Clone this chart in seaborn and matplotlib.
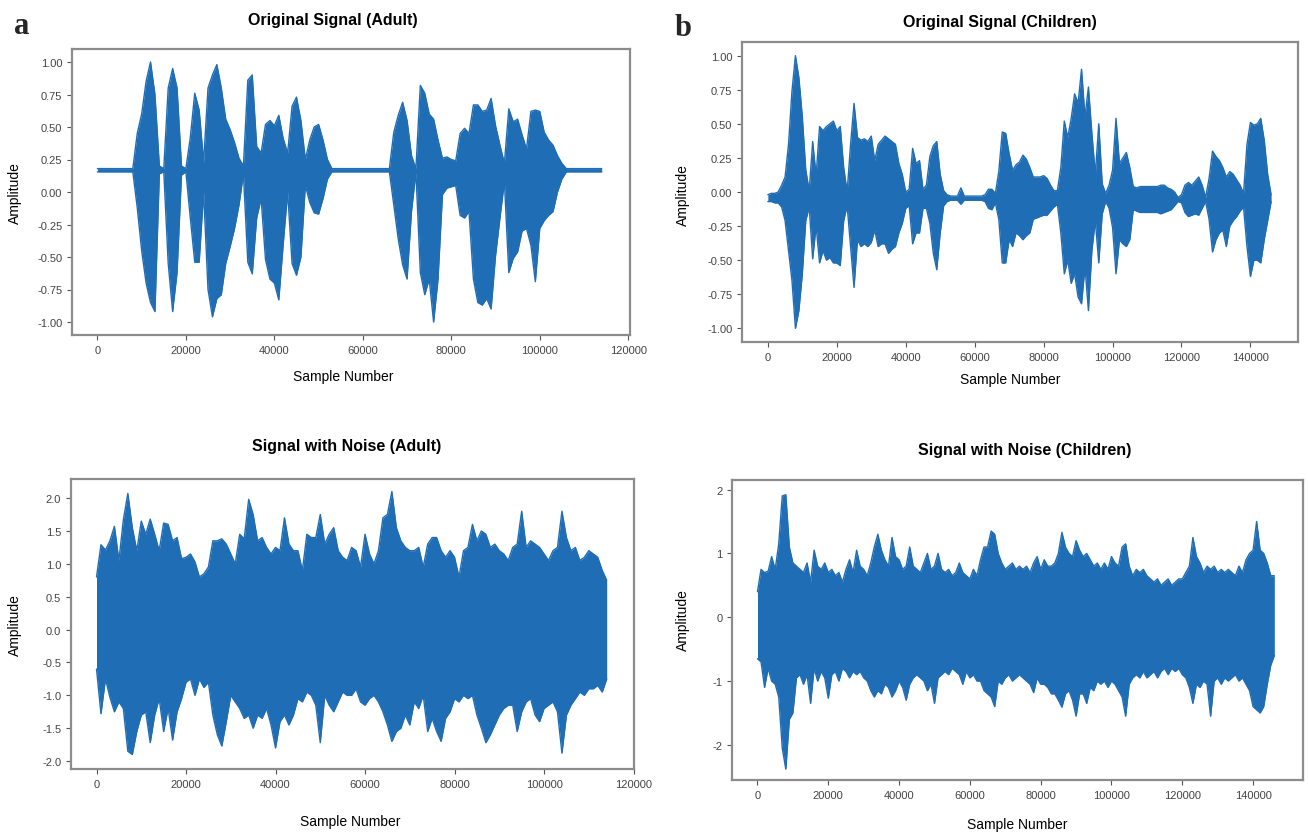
import numpy as np
import pandas as pd
import matplotlib
matplotlib.use("Agg")
import matplotlib.pyplot as plt
import seaborn as sns
from matplotlib.ticker import MultipleLocator, FormatStrFormatter

# --- style ---
sns.set_theme(style="ticks")
plt.rcParams['font.family'] = ['Liberation Sans', 'DejaVu Sans']

WAVE_COLOR = '#1f6db4'
STEP = 1000  # one envelope reading (max / min) every 1000 samples

# --- data: envelope of the waveforms ---
# Original Signal (Adult), samples 0..114000
adult_orig_hi = [
    0.18, 0.18, 0.18, 0.18, 0.18, 0.18, 0.18, 0.18, 0.18, 0.45,
    0.60, 0.85, 1.00, 0.75, 0.20, 0.18, 0.80, 0.95, 0.80, 0.20,
    0.18, 0.42, 0.76, 0.63, 0.23, 0.80, 0.90, 0.98, 0.80, 0.56,
    0.48, 0.38, 0.26, 0.20, 0.86, 0.90, 0.35, 0.30, 0.52, 0.55,
    0.51, 0.59, 0.41, 0.30, 0.66, 0.73, 0.55, 0.25, 0.40, 0.50,
    0.52, 0.40, 0.25, 0.18, 0.18, 0.18, 0.18, 0.18, 0.18, 0.18,
    0.18, 0.18, 0.18, 0.18, 0.18, 0.18, 0.18, 0.46, 0.59, 0.69,
    0.55, 0.28, 0.18, 0.82, 0.76, 0.60, 0.56, 0.40, 0.26, 0.27,
    0.25, 0.24, 0.45, 0.49, 0.45, 0.67, 0.67, 0.62, 0.63, 0.72,
    0.51, 0.36, 0.22, 0.64, 0.54, 0.56, 0.44, 0.33, 0.62, 0.63,
    0.62, 0.46, 0.40, 0.36, 0.28, 0.22, 0.18, 0.18, 0.18, 0.18,
    0.18, 0.18, 0.18, 0.18, 0.18,
]
adult_orig_lo = [
    0.155, 0.155, 0.155, 0.155, 0.155, 0.155, 0.155, 0.155, 0.155, -0.12,
    -0.45, -0.70, -0.85, -0.92, 0.14, 0.155, -0.55, -0.92, -0.62, 0.13,
    0.155, -0.20, -0.54, -0.54, 0.00, -0.75, -0.96, -0.82, -0.79, -0.55,
    -0.42, -0.28, -0.10, 0.14, -0.54, -0.63, -0.20, -0.05, -0.52, -0.67,
    -0.70, -0.83, -0.40, 0.00, -0.55, -0.64, -0.50, 0.05, -0.08, -0.16,
    -0.17, -0.05, 0.10, 0.155, 0.155, 0.155, 0.155, 0.155, 0.155, 0.155,
    0.155, 0.155, 0.155, 0.155, 0.155, 0.155, 0.155, -0.10, -0.36, -0.56,
    -0.67, -0.15, 0.155, -0.62, -0.79, -0.67, -1.00, -0.67, -0.02, 0.03,
    0.04, 0.05, -0.18, -0.20, -0.15, -0.67, -0.85, -0.87, -0.82, -0.90,
    -0.49, -0.20, 0.08, -0.62, -0.51, -0.46, -0.30, -0.28, -0.41, -0.69,
    -0.28, -0.22, -0.18, -0.15, 0.00, 0.10, 0.155, 0.155, 0.155, 0.155,
    0.155, 0.155, 0.155, 0.155, 0.155,
]

# Original Signal (Children), samples 0..146000
child_orig_hi = [
    -0.02, -0.01, -0.01, 0.00, 0.05, 0.11, 0.35, 0.74, 1.00, 0.84,
    0.55, 0.16, 0.01, 0.37, 0.12, 0.48, 0.45, 0.48, 0.50, 0.52,
    0.45, 0.48, 0.18, 0.00, 0.35, 0.65, 0.40, 0.38, 0.39, 0.37,
    0.41, 0.23, 0.35, 0.38, 0.41, 0.39, 0.37, 0.35, 0.21, 0.13,
    0.00, 0.02, 0.32, 0.21, 0.23, 0.02, 0.05, 0.26, 0.34, 0.37,
    0.13, 0.01, -0.02, -0.03, -0.03, -0.03, 0.03, -0.03, -0.03, -0.03,
    -0.03, -0.03, -0.03, -0.02, 0.02, 0.02, -0.01, 0.15, 0.44, 0.43,
    0.28, 0.16, 0.20, 0.22, 0.27, 0.24, 0.18, 0.11, 0.11, 0.11,
    0.12, 0.10, 0.05, 0.01, 0.01, 0.18, 0.52, 0.40, 0.54, 0.72,
    0.65, 0.90, 0.55, 0.77, 0.43, 0.13, 0.50, 0.06, -0.01, 0.05,
    0.16, 0.54, 0.21, 0.25, 0.29, 0.18, 0.04, 0.03, 0.04, 0.04,
    0.04, 0.04, 0.04, 0.04, 0.05, 0.05, 0.03, 0.02, 0.00, -0.04,
    -0.02, 0.05, 0.07, 0.05, 0.08, 0.11, 0.05, -0.04, 0.10, 0.30,
    0.26, 0.23, 0.18, 0.11, 0.15, 0.13, 0.09, 0.05, -0.01, 0.35,
    0.51, 0.49, 0.50, 0.54, 0.38, 0.13, -0.02,
]
child_orig_lo = [
    -0.07, -0.07, -0.08, -0.08, -0.11, -0.21, -0.43, -0.65, -1.00, -0.87,
    -0.60, -0.21, -0.11, -0.49, -0.25, -0.52, -0.43, -0.50, -0.48, -0.52,
    -0.52, -0.54, -0.21, -0.10, -0.40, -0.70, -0.35, -0.40, -0.38, -0.40,
    -0.37, -0.28, -0.40, -0.38, -0.38, -0.45, -0.42, -0.40, -0.30, -0.23,
    -0.12, -0.10, -0.38, -0.30, -0.30, -0.12, -0.12, -0.23, -0.45, -0.57,
    -0.30, -0.10, -0.07, -0.06, -0.06, -0.06, -0.09, -0.06, -0.06, -0.06,
    -0.06, -0.06, -0.06, -0.07, -0.12, -0.13, -0.08, -0.20, -0.52, -0.52,
    -0.35, -0.40, -0.30, -0.32, -0.35, -0.32, -0.30, -0.20, -0.19, -0.18,
    -0.17, -0.17, -0.14, -0.11, -0.09, -0.30, -0.60, -0.50, -0.67, -0.60,
    -0.77, -0.82, -0.55, -0.87, -0.43, -0.21, -0.52, -0.16, -0.07, -0.12,
    -0.26, -0.60, -0.35, -0.38, -0.40, -0.35, -0.13, -0.14, -0.15, -0.15,
    -0.15, -0.15, -0.15, -0.15, -0.16, -0.15, -0.14, -0.13, -0.10, -0.07,
    -0.08, -0.15, -0.18, -0.17, -0.16, -0.17, -0.12, -0.07, -0.20, -0.44,
    -0.35, -0.30, -0.28, -0.40, -0.25, -0.21, -0.18, -0.14, -0.11, -0.40,
    -0.62, -0.50, -0.50, -0.52, -0.35, -0.21, -0.07,
]

# Signal with Noise (Adult), samples 0..114000
adult_noise_hi = [
    0.80, 1.29, 1.21, 1.35, 1.57, 1.05, 1.67, 2.07, 1.55, 1.20,
    1.65, 1.45, 1.68, 1.45, 1.20, 1.62, 1.60, 1.35, 1.40, 1.08,
    1.10, 1.15, 1.03, 0.80, 0.85, 0.95, 1.35, 1.35, 1.38, 1.30,
    1.15, 1.00, 1.45, 1.38, 1.98, 1.75, 1.35, 1.40, 1.25, 1.15,
    1.25, 1.20, 1.70, 1.30, 1.20, 1.20, 0.90, 1.45, 1.40, 1.40,
    1.75, 1.30, 1.45, 1.55, 1.20, 1.10, 1.05, 1.25, 1.20, 0.95,
    1.45, 1.15, 1.00, 1.20, 1.70, 1.75, 2.10, 1.55, 1.35, 1.25,
    1.20, 1.20, 1.25, 0.95, 1.30, 1.40, 1.40, 1.20, 1.10, 1.20,
    1.10, 0.80, 1.20, 1.25, 1.60, 1.35, 1.50, 1.45, 1.25, 1.30,
    1.20, 1.15, 1.05, 1.25, 1.30, 1.80, 1.25, 1.35, 1.30, 1.25,
    1.15, 1.05, 1.20, 1.25, 1.80, 1.40, 1.20, 1.25, 1.05, 1.10,
    1.20, 1.15, 1.10, 0.90, 0.75,
]
adult_noise_lo = [
    -0.60, -1.28, -0.75, -1.03, -1.25, -1.10, -1.20, -1.85, -1.90, -1.55,
    -1.30, -1.25, -1.72, -1.30, -1.05, -1.55, -1.20, -1.68, -1.25, -1.05,
    -0.80, -0.75, -1.00, -0.75, -0.88, -0.80, -1.30, -1.60, -1.77, -1.40,
    -1.00, -1.10, -1.20, -1.35, -1.30, -1.50, -1.30, -1.35, -1.20, -1.45,
    -1.80, -1.40, -1.30, -1.45, -1.30, -1.05, -1.10, -0.95, -1.00, -1.15,
    -1.72, -1.00, -1.15, -1.25, -1.10, -0.95, -1.00, -1.00, -0.90, -1.10,
    -1.15, -1.05, -1.00, -1.10, -1.25, -1.45, -1.70, -1.55, -1.50, -1.30,
    -1.45, -1.10, -1.20, -1.00, -1.55, -1.35, -1.55, -1.70, -1.35, -1.25,
    -1.05, -1.10, -1.00, -1.05, -1.00, -1.30, -1.50, -1.72, -1.60, -1.45,
    -1.30, -1.20, -1.15, -1.15, -1.55, -1.25, -1.10, -1.05, -1.30, -1.40,
    -1.20, -1.15, -1.10, -1.25, -1.88, -1.30, -1.15, -1.05, -0.95, -1.00,
    -0.90, -0.90, -0.85, -0.95, -0.75,
]

# Signal with Noise (Children), samples 0..146000
child_noise_hi = [
    0.40, 0.75, 0.70, 0.72, 0.95, 0.75, 1.15, 1.90, 1.92, 1.10,
    0.85, 0.80, 0.75, 0.70, 0.85, 0.55, 1.05, 0.80, 0.75, 0.85,
    0.70, 0.75, 0.65, 0.70, 0.55, 0.75, 0.90, 0.70, 1.05, 0.80,
    0.75, 0.65, 0.85, 1.10, 1.30, 1.05, 0.90, 0.80, 1.25, 0.95,
    0.90, 0.75, 0.80, 1.10, 0.80, 0.75, 0.70, 0.85, 1.00, 0.75,
    0.80, 1.00, 0.75, 0.70, 0.75, 0.65, 0.70, 0.85, 0.70, 0.65,
    0.60, 0.75, 0.65, 0.90, 1.10, 1.10, 1.35, 1.30, 1.00, 0.85,
    0.75, 0.80, 0.85, 0.75, 0.80, 0.75, 0.80, 0.70, 0.85, 0.95,
    0.75, 0.90, 0.80, 0.80, 0.85, 1.00, 1.33, 1.10, 1.00, 0.95,
    1.20, 1.05, 0.95, 1.00, 0.90, 0.80, 0.85, 0.75, 0.85, 0.75,
    0.95, 0.85, 0.80, 1.10, 1.15, 0.80, 0.65, 0.75, 0.70, 0.75,
    0.65, 0.60, 0.55, 0.60, 0.50, 0.55, 0.60, 0.50, 0.55, 0.60,
    0.60, 0.70, 0.80, 1.25, 0.95, 0.85, 0.70, 0.80, 0.75, 0.80,
    0.70, 0.75, 0.70, 0.75, 0.70, 0.65, 0.80, 0.70, 0.90, 1.00,
    1.05, 1.50, 1.05, 1.00, 0.85, 0.65, 0.65,
]
child_noise_lo = [
    -0.65, -0.70, -1.10, -0.80, -1.00, -1.05, -1.25, -2.05, -2.38, -1.60,
    -1.50, -0.95, -0.90, -1.05, -0.90, -1.35, -0.80, -1.00, -0.85, -0.95,
    -1.27, -0.90, -0.85, -1.00, -0.80, -0.85, -0.95, -0.85, -0.90, -0.85,
    -0.95, -1.00, -1.15, -1.25, -1.15, -1.20, -1.05, -1.10, -1.25, -1.15,
    -1.00, -1.10, -1.30, -1.05, -0.95, -0.90, -0.95, -1.00, -1.15, -1.05,
    -1.35, -0.95, -0.90, -0.85, -0.90, -0.80, -0.85, -0.90, -1.05, -0.85,
    -0.95, -0.90, -1.00, -1.00, -1.15, -1.20, -1.25, -1.40, -1.00, -1.05,
    -0.95, -0.90, -1.00, -0.95, -0.90, -0.95, -1.00, -1.05, -1.18, -0.95,
    -1.05, -1.05, -1.10, -1.20, -1.20, -1.30, -1.41, -1.20, -1.15, -1.30,
    -1.55, -1.20, -1.20, -1.35, -1.10, -1.15, -1.00, -1.05, -1.00, -1.10,
    -1.00, -1.05, -1.15, -1.25, -1.55, -1.05, -0.95, -0.90, -0.95, -0.85,
    -0.95, -0.90, -0.85, -0.95, -0.85, -0.80, -0.90, -0.80, -0.85, -0.80,
    -0.90, -0.95, -1.10, -1.35, -1.05, -1.10, -1.00, -1.05, -1.55, -1.00,
    -0.95, -1.05, -0.95, -1.00, -0.95, -0.90, -1.00, -0.95, -1.05, -1.15,
    -1.40, -1.45, -1.50, -1.40, -1.05, -0.75, -0.60,
]

# --- figure ---
W, H = 1308, 837
fig = plt.figure(figsize=(W / 100, H / 100), dpi=100)


def px_axes(left, top, right, bottom):
    # axes placed by pixel box of the reference
    return fig.add_axes([left / W, 1 - bottom / H, (right - left) / W, (bottom - top) / H])


def px_text(x, y, s, **kw):
    fig.text(x / W, 1 - y / H, s, ha='center', va='center', **kw)


def draw_wave(ax, hi, lo, xlim, ylim, xstep, ystep, yfmt):
    df = pd.DataFrame({'sample': np.arange(len(hi)) * STEP, 'hi': hi, 'lo': lo})
    ax.fill_between(df['sample'], df['lo'], df['hi'], color=WAVE_COLOR, lw=0)
    sns.lineplot(data=df, x='sample', y='hi', ax=ax, color=WAVE_COLOR, lw=1.0)
    sns.lineplot(data=df, x='sample', y='lo', ax=ax, color=WAVE_COLOR, lw=1.0)
    ax.set_xlim(*xlim)
    ax.set_ylim(*ylim)
    ax.xaxis.set_major_locator(MultipleLocator(xstep))
    ax.yaxis.set_major_locator(MultipleLocator(ystep))
    ax.yaxis.set_major_formatter(FormatStrFormatter(yfmt))
    ax.set_xlabel('')
    ax.set_ylabel('')
    for sp in ax.spines.values():
        sp.set_visible(True)
        sp.set_color('#8c8c8c')
        sp.set_linewidth(1.6)
    ax.tick_params(labelsize=8, labelcolor='#444444', color='#555555', length=3.5, width=0.8)


ax1 = px_axes(72, 50, 630, 336)
draw_wave(ax1, adult_orig_hi, adult_orig_lo, (-5750, 120400), (-1.1, 1.1), 20000, 0.25, '%.2f')
ax2 = px_axes(742, 43, 1298, 343)
draw_wave(ax2, child_orig_hi, child_orig_lo, (-7500, 153800), (-1.1, 1.1), 20000, 0.25, '%.2f')
ax3 = px_axes(71, 480, 634, 770)
draw_wave(ax3, adult_noise_hi, adult_noise_lo, (-5700, 120100), (-2.12, 2.29), 20000, 0.5, '%.1f')
ax4 = px_axes(732, 481, 1303, 781)
draw_wave(ax4, child_noise_hi, child_noise_lo, (-7200, 154100), (-2.55, 2.15), 20000, 1, '%d')

# titles and axis labels
title_kw = dict(fontsize=11.5, fontweight='bold', color='black')
label_kw = dict(fontsize=10, color='black')
px_text(333, 20, 'Original Signal (Adult)', **title_kw)
px_text(1000, 23, 'Original Signal (Children)', **title_kw)
px_text(347, 447, 'Signal with Noise (Adult)', **title_kw)
px_text(1025, 451, 'Signal with Noise (Children)', **title_kw)

px_text(343, 377, 'Sample Number', **label_kw)
px_text(1010, 380, 'Sample Number', **label_kw)
px_text(350, 822, 'Sample Number', **label_kw)
px_text(1017, 825, 'Sample Number', **label_kw)

px_text(15, 193, 'Amplitude', rotation=90, **label_kw)
px_text(683, 195, 'Amplitude', rotation=90, **label_kw)
px_text(15, 625, 'Amplitude', rotation=90, **label_kw)
px_text(683, 620, 'Amplitude', rotation=90, **label_kw)

# panel letters
letter_kw = dict(fontsize=22, fontweight='bold', family=['Liberation Serif', 'DejaVu Serif'])
px_text(22, 27, 'a', **letter_kw)
px_text(683, 28, 'b', **letter_kw)

fig.savefig('out.png', dpi=100)
